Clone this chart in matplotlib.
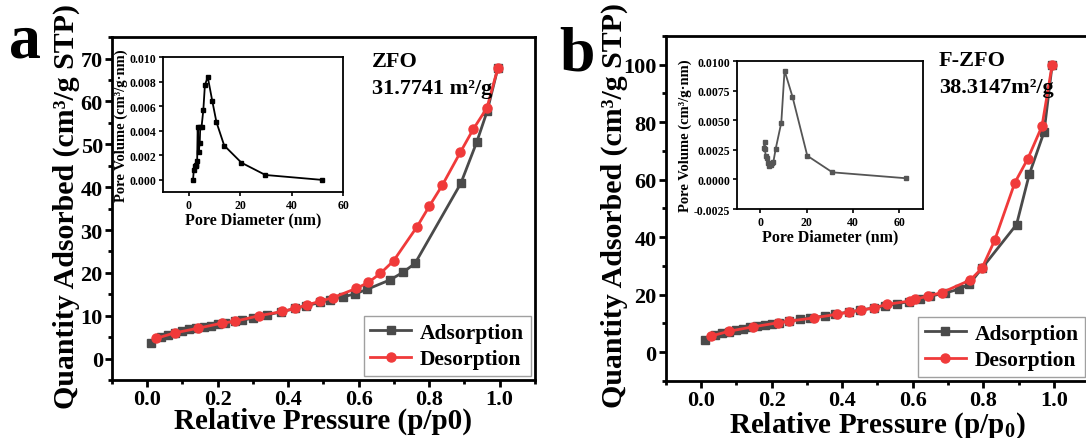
import matplotlib
matplotlib.use("Agg")
from matplotlib import pyplot as plt
from matplotlib.ticker import MultipleLocator, FormatStrFormatter

plt.rcParams['font.family'] = ['Liberation Serif', 'DejaVu Serif']
plt.rcParams['font.weight'] = 'bold'
plt.rcParams['axes.labelweight'] = 'bold'
plt.rcParams['mathtext.fontset'] = 'custom'
plt.rcParams['mathtext.rm'] = 'Liberation Serif:bold'
plt.rcParams['mathtext.it'] = 'Liberation Serif:bold'
plt.rcParams['mathtext.bf'] = 'Liberation Serif:bold'

# ---- panel a : ZFO isotherm ----
a_ads_p = [0.01, 0.04, 0.06, 0.08, 0.10, 0.12, 0.14, 0.16, 0.18, 0.20, 0.22, 0.25, 0.27,
           0.30, 0.34, 0.38, 0.42, 0.45, 0.49, 0.52, 0.555, 0.59, 0.625, 0.69, 0.725,
           0.76, 0.89, 0.935, 0.965, 0.995]
a_ads_q = [3.7, 5.1, 5.6, 6.0, 6.4, 6.8, 7.1, 7.4, 7.7, 8.0, 8.3, 8.7, 9.0,
           9.4, 10.2, 10.9, 11.7, 12.3, 13.1, 13.7, 14.4, 15.1, 16.2, 18.4, 20.1,
           22.2, 40.9, 50.5, 57.8, 67.8]
a_des_p = [0.995, 0.964, 0.925, 0.889, 0.837, 0.80, 0.766, 0.699, 0.662, 0.628, 0.594,
           0.526, 0.491, 0.453, 0.419, 0.384, 0.317, 0.249, 0.213, 0.145, 0.078, 0.025]
a_des_q = [67.8, 58.5, 53.5, 48.2, 40.4, 35.5, 30.8, 22.8, 19.9, 17.8, 16.4,
           14.2, 13.4, 12.5, 11.7, 11.0, 10.0, 8.7, 8.3, 7.1, 6.0, 4.7]
# pore size distribution a
a_pd = [1.7, 2.0, 2.3, 2.8, 3.0, 3.3, 3.5, 3.9, 4.3, 4.5, 5.0, 5.7, 6.3, 7.4,
        9.2, 10.8, 13.8, 20.5, 29.8, 51.8]
a_pv = [0.0000, 0.0008, 0.0011, 0.0011, 0.0012, 0.0015, 0.0043, 0.0023, 0.0030,
        0.0043, 0.0043, 0.0057, 0.0077, 0.0084, 0.0064, 0.0047, 0.0028, 0.0014,
        0.0004, 0.0000]

# ---- panel b : F-ZFO isotherm ----
b_ads_p = [0.01, 0.04, 0.06, 0.08, 0.10, 0.12, 0.14, 0.16, 0.18, 0.20, 0.22, 0.25, 0.28,
           0.31, 0.35, 0.38, 0.42, 0.45, 0.49, 0.52, 0.555, 0.59, 0.62, 0.65, 0.69,
           0.73, 0.76, 0.796, 0.894, 0.93, 0.972, 0.995]
b_ads_q = [4.4, 5.8, 6.5, 7.1, 7.6, 8.1, 8.6, 9.0, 9.5, 9.9, 10.3, 10.8, 11.4,
           11.9, 12.6, 13.2, 14.0, 14.6, 15.4, 16.0, 16.8, 17.6, 18.5, 19.5, 20.5,
           21.9, 23.6, 29.2, 44.4, 61.8, 76.6, 100.0]
b_des_p = [0.995, 0.966, 0.926, 0.889, 0.832, 0.796, 0.763, 0.682, 0.642, 0.607, 0.592,
           0.526, 0.49, 0.454, 0.42, 0.386, 0.319, 0.25, 0.217, 0.147, 0.08, 0.028]
b_des_q = [100.0, 78.6, 67.3, 58.9, 38.9, 29.2, 25.1, 20.7, 19.5, 18.4, 17.8,
           16.6, 15.4, 14.6, 14.0, 13.2, 11.9, 10.8, 10.2, 8.8, 7.3, 5.6]
# pore size distribution b
b_pd = [1.75, 1.9, 2.0, 2.4, 2.9, 3.3, 3.9, 4.6, 5.3, 5.7, 6.7, 9.1, 10.5, 13.9,
        20.3, 31.1, 62.8]
b_pv = [0.00268, 0.0032, 0.0026, 0.0020, 0.0018, 0.0014, 0.0011, 0.0012, 0.0014,
        0.0015, 0.0026, 0.0048, 0.0092, 0.0070, 0.0020, 0.0006, 0.0001]

gray = '#4a4a4a'
red = '#f03a3a'
legprop = {'weight': 'bold', 'size': 15.5}

fig = plt.figure(figsize=(10.86, 4.39), dpi=100)


def style_main(ax):
    for s in ax.spines.values():
        s.set_linewidth(2)
    ax.tick_params(which='both', direction='out', top=False, right=False, width=2)
    ax.tick_params(which='major', length=5, labelsize=16, pad=1.5)
    ax.tick_params(which='minor', length=3)
    ax.xaxis.set_major_locator(MultipleLocator(0.2))
    ax.xaxis.set_minor_locator(MultipleLocator(0.1))
    ax.set_xlim(-0.1, 1.1)
    ax.xaxis.set_major_formatter(FormatStrFormatter('%.1f'))


def style_inset(ax):
    for s in ax.spines.values():
        s.set_linewidth(1.3)
    ax.tick_params(which='both', direction='out', top=False, right=False, width=1.2,
                   length=3, labelsize=8.5, pad=2)


# panel a
ax1 = fig.add_axes([0.103, 0.132, 0.3895, 0.781])
ax1.plot(a_ads_p, a_ads_q, '-s', color=gray, lw=2, ms=6, label='Adsorption')
ax1.plot(a_des_p, a_des_q, '-o', color=red, lw=2, ms=6.5, label='Desorption')
style_main(ax1)
ax1.set_ylim(-5, 75)
ax1.yaxis.set_major_locator(MultipleLocator(10))
ax1.yaxis.set_minor_locator(MultipleLocator(5))
ax1.set_xlabel('Relative Pressure (p/p0)', fontsize=21, labelpad=-1.5)
ax1.set_ylabel('Quantity Adsorbed (cm\u00b3/g STP)', fontsize=21.5)
ax1.yaxis.set_label_coords(-0.075, 0.51)
leg = ax1.legend(loc='lower right', prop=legprop, frameon=True, fancybox=False,
                 handlelength=1.9, handletextpad=0.4, borderaxespad=0.2,
                 borderpad=0.3, labelspacing=0.3)
leg.get_frame().set_edgecolor('#888888')
ax1.text(0.615, 0.96, 'ZFO\n31.7741 m\u00b2/g', transform=ax1.transAxes, fontsize=16,
         va='top', ha='left', linespacing=1.5)
fig.text(0.008, 0.87, 'a', fontsize=46, fontweight='bold')

ins1 = fig.add_axes([0.150, 0.560, 0.166, 0.3075])
ins1.plot(a_pd, a_pv, '-s', color='black', lw=1.3, ms=3.5)
style_inset(ins1)
ins1.set_xlim(-10, 60)
ins1.set_ylim(-0.001, 0.010)
ins1.xaxis.set_major_locator(MultipleLocator(20))
ins1.yaxis.set_major_locator(MultipleLocator(0.002))
ins1.yaxis.set_major_formatter(FormatStrFormatter('%.3f'))
ins1.set_xlabel('Pore Diameter (nm)', fontsize=11.5, labelpad=0)
ins1.set_ylabel('Pore Volume (cm\u00b3/g\u00b7nm)', fontsize=10.5, labelpad=1)

# panel b
ax2 = fig.add_axes([0.613, 0.130, 0.390, 0.786])
ax2.plot(b_ads_p, b_ads_q, '-s', color=gray, lw=2, ms=6, label='Adsorption')
ax2.plot(b_des_p, b_des_q, '-o', color=red, lw=2, ms=6.5, label='Desorption')
style_main(ax2)
ax2.set_ylim(-10, 110)
ax2.yaxis.set_major_locator(MultipleLocator(20))
ax2.yaxis.set_minor_locator(MultipleLocator(10))
ax2.set_xlabel('Relative Pressure (p/p$_0$)', fontsize=21, labelpad=-0.5)
ax2.set_ylabel('Quantity Adsorbed (cm\u00b3/g STP)', fontsize=21.5)
ax2.yaxis.set_label_coords(-0.09, 0.51)
leg = ax2.legend(loc='lower right', bbox_to_anchor=(1.0, 0.0), prop=legprop,
                 frameon=True, fancybox=False, handlelength=1.9, handletextpad=0.4,
                 borderaxespad=0.2, borderpad=0.3, labelspacing=0.3)
leg.get_frame().set_edgecolor('#888888')
ax2.text(0.645, 0.96, 'F-ZFO\n38.3147m\u00b2/g', transform=ax2.transAxes, fontsize=16,
         va='top', ha='left', linespacing=1.5)
fig.text(0.515, 0.84, 'b', fontsize=46, fontweight='bold')

ins2 = fig.add_axes([0.6786, 0.5216, 0.171, 0.337])
ins2.plot(b_pd, b_pv, '-s', color='#555555', lw=1.3, ms=3.5)
style_inset(ins2)
ins2.set_xlim(-10, 70)
ins2.set_ylim(-0.0025, 0.010)
ins2.xaxis.set_major_locator(MultipleLocator(20))
ins2.yaxis.set_major_locator(MultipleLocator(0.0025))
ins2.yaxis.set_major_formatter(FormatStrFormatter('%.4f'))
ins2.set_xlabel('Pore Diameter (nm)', fontsize=11.5, labelpad=0)
ins2.set_ylabel('Pore Volume (cm\u00b3/g\u00b7nm)', fontsize=10.5, labelpad=1)

fig.savefig('out.png', dpi=100)
